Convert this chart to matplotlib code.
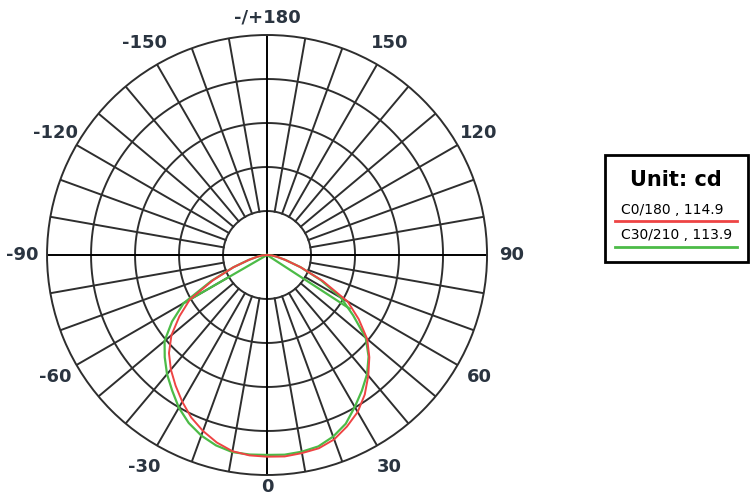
import numpy as np
import matplotlib
matplotlib.use("Agg")
import matplotlib.pyplot as plt
from matplotlib.patches import Rectangle
from matplotlib.lines import Line2D

# gamma angles (deg), 0 = straight down
gamma = list(range(-90, 95, 5))

# luminous intensity, cd
c0_180 = [0, 2.8, 5.6, 10.7, 20.3, 33.8, 50.7, 60.8, 70.9, 78.8, 85.0, 90.6, 96.3,
          101.9, 106.4, 110.3, 113.2, 114.3, 114.6,
          114.9, 114.3, 113.7, 111.5, 107.5, 103.0, 96.8, 89.5, 82.2, 74.3, 63.6,
          52.9, 34.9, 20.3, 10.7, 5.6, 2.8, 0]
c30_210 = [0, 2.8, 5.6, 10.7, 20.3, 34.9, 54.6, 65.9, 76.0, 82.2, 88.4, 94.0, 100.2,
           105.3, 109.2, 112.0, 113.7, 113.8, 113.6,
           113.9, 113.5, 112.6, 109.8, 105.8, 99.7, 94.0, 88.4, 81.6, 73.2, 59.7,
           48.4, 33.8, 20.3, 10.7, 5.6, 2.8, 0]
# the C30/210 trace also has straight strokes from the centre to these points
c30_ends_gamma = [-60, 57]
c30_ends_cd = [54.6, 56.0]

ring_values = [25, 50, 75, 100, 125]
spoke_angles = list(range(0, 360, 10))
label_angles = [0, 30, 60, 90, 120, 150, 180, -150, -120, -90, -60, -30]
label_texts = ["0", "30", "60", "90", "120", "150", "-/+180", "-150", "-120", "-90", "-60", "-30"]

legend_names = ["C0/180 , 114.9", "C30/210 , 113.9"]
red = "#ee4444"
green = "#4cbb47"
grid_col = "#2e2e2e"
label_col = "#2a3440"

fig = plt.figure(figsize=(7.5, 5), dpi=100)
ax = fig.add_axes([0.0627, 0.05, 0.5867, 0.88], projection="polar")
ax.set_theta_zero_location("S")
ax.set_theta_direction(1)
ax.set_ylim(0, 125)
ax.grid(False)
ax.set_xticks([])
ax.set_yticks([])
ax.spines["polar"].set_color(grid_col)
ax.spines["polar"].set_linewidth(1.4)

full = np.linspace(0, 2 * np.pi, 361)
for r in ring_values[:-1]:
    ax.plot(full, np.full_like(full, r), color=grid_col, lw=1.4, zorder=1)
for a in spoke_angles:
    t = np.radians(a)
    if a % 90 == 0:
        ax.plot([t, t], [0, 125], color="black", lw=1.4, zorder=1)
    else:
        ax.plot([t, t], [ring_values[0], 125], color=grid_col, lw=1.4, zorder=1)

g = np.radians(gamma)
ax.plot(g, c30_210, color=green, lw=1.6, zorder=3)
for eg, ec in zip(c30_ends_gamma, c30_ends_cd):
    ax.plot([np.radians(eg), 0], [ec, 0], color=green, lw=1.6, zorder=3)
ax.plot(g, c0_180, color=red, lw=1.4, zorder=4)

for a, s in zip(label_angles, label_texts):
    if a == 0:
        rr = 132
    elif a == 180:
        rr = 135
    else:
        rr = 139
    ax.text(np.radians(a), rr, s, ha="center", va="center", fontsize=13,
            fontweight="bold", color=label_col, clip_on=False)

# legend box
fig.add_artist(Rectangle((605 / 750, 1 - 262 / 500), 143 / 750, 107 / 500,
                         transform=fig.transFigure, fill=False, ec="black", lw=2))
fig.text(676 / 750, 1 - 180 / 500, "Unit: cd", ha="center", va="center",
         fontsize=15, fontweight="bold", color="black")
fig.text(621 / 750, 1 - 210 / 500, legend_names[0], ha="left", va="center",
         fontsize=10, color="black")
fig.add_artist(Line2D([615 / 750, 737 / 750], [1 - 221 / 500, 1 - 221 / 500],
                      transform=fig.transFigure, color=red, lw=2))
fig.text(621 / 750, 1 - 235 / 500, legend_names[1], ha="left", va="center",
         fontsize=10, color="black")
fig.add_artist(Line2D([615 / 750, 737 / 750], [1 - 247 / 500, 1 - 247 / 500],
                      transform=fig.transFigure, color=green, lw=2))

fig.savefig("out.png", dpi=100)
